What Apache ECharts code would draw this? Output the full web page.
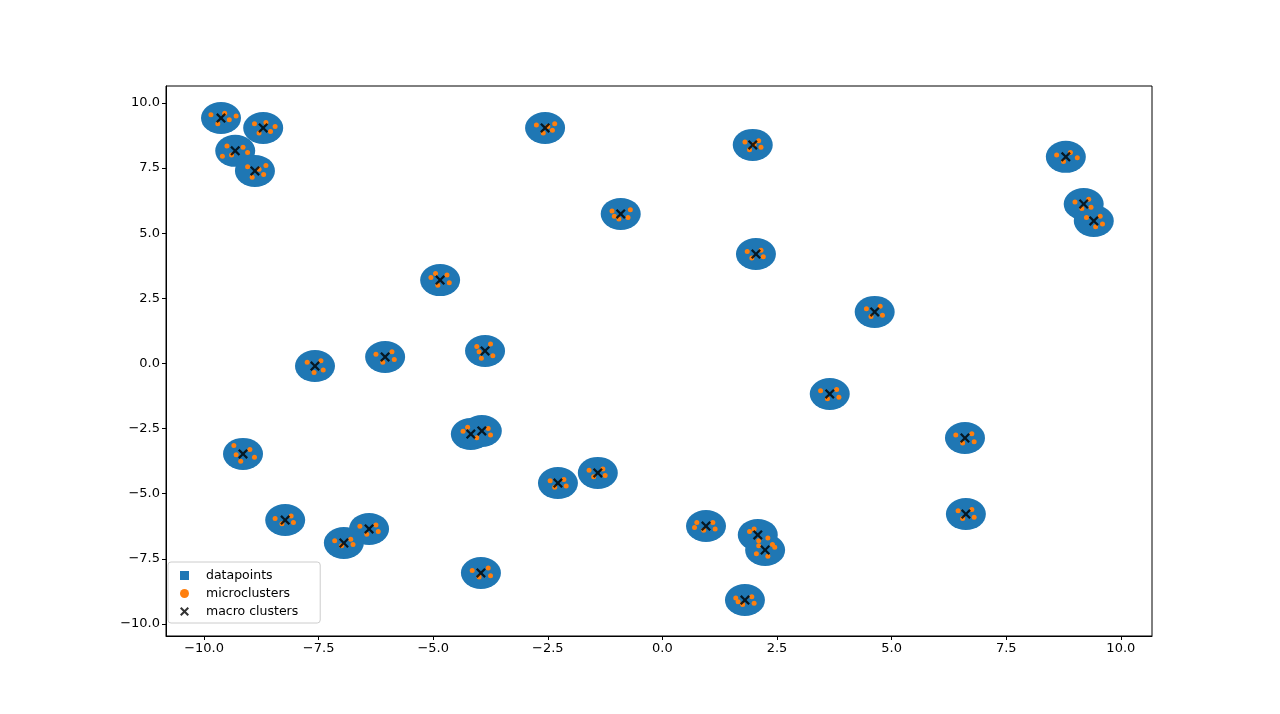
<!DOCTYPE html>
<html><head><meta charset="utf-8">
<script src="https://cdn.jsdelivr.net/npm/echarts@6/dist/echarts.min.js"></script>
<style>html,body{margin:0;padding:0;background:#fff}#c{width:1280px;height:714px}</style>
</head><body><div id="c"></div>
<script>
// blob centres of the datapoints (each blob is one dense cloud of points)
const datapoints = [
[-9.63,9.42],[-8.71,9.04],[-9.32,8.16],[-8.89,7.39],[-2.56,9.04],[1.97,8.39],[-0.91,5.74],
[8.80,7.93],[9.19,6.12],[9.41,5.47],[2.04,4.20],[-4.85,3.20],[4.63,1.98],[-6.05,0.25],
[-3.87,0.48],[-7.58,-0.10],[3.65,-1.17],[-4.18,-2.71],[-3.94,-2.59],[6.60,-2.86],[-9.15,-3.47],
[-1.41,-4.20],[-2.28,-4.59],[-8.23,-6.01],[-6.40,-6.35],[-6.95,-6.89],[0.95,-6.24],[6.62,-5.78],
[2.08,-6.58],[2.24,-7.16],[-3.96,-8.04],[1.80,-9.08]
];
const macroClusters = datapoints.slice();
const microclusters = [
[-9.85,9.55],[-9.45,9.35],[-9.7,9.2],[-9.3,9.5],[-9.55,9.6],
[-8.9,9.2],[-8.55,8.9],[-8.8,8.85],[-8.45,9.1],[-8.65,9.25],
[-9.6,7.95],[-9.15,8.3],[-9.4,8.0],[-9.05,8.1],[-9.5,8.35],
[-9.05,7.55],[-8.7,7.25],[-8.95,7.15],[-8.65,7.6],[-8.8,7.45],
[-2.75,9.15],[-2.4,8.95],[-2.6,8.85],[-2.35,9.2],[-2.5,9.1],
[1.8,8.5],[2.15,8.3],[1.9,8.2],[2.1,8.55],[2.0,8.4],
[-1.1,5.85],[-0.75,5.6],[-0.95,5.55],[-0.7,5.9],[-1.05,5.65],
[8.6,8.0],[9.05,7.9],[8.75,7.75],[8.9,8.1],
[9.0,6.2],[9.35,6.0],[9.15,5.95],[9.3,6.3],
[9.25,5.6],[9.6,5.35],[9.45,5.25],[9.55,5.65],
[1.85,4.3],[2.2,4.1],[1.95,4.05],[2.15,4.35],
[-5.05,3.3],[-4.65,3.1],[-4.9,3.0],[-4.7,3.4],[-4.95,3.45],
[4.45,2.1],[4.8,1.85],[4.55,1.8],[4.75,2.2],
[-6.25,0.35],[-5.85,0.15],[-6.1,0.05],[-5.9,0.45],
[-4.05,0.65],[-3.7,0.3],[-3.95,0.2],[-3.75,0.75],[-4.0,0.45],
[-7.75,0.05],[-7.4,-0.25],[-7.6,-0.35],[-7.45,0.1],
[3.45,-1.05],[3.85,-1.3],[3.6,-1.35],[3.8,-1.0],
[-4.35,-2.6],[-4.05,-2.85],[-3.8,-2.5],[-4.25,-2.45],[-3.75,-2.75],
[6.4,-2.75],[6.8,-3.0],[6.55,-3.05],[6.75,-2.7],
[-9.35,-3.15],[-8.9,-3.6],[-9.2,-3.75],[-9.0,-3.3],[-9.3,-3.5],
[-1.6,-4.1],[-1.25,-4.3],[-1.5,-4.35],[-1.3,-4.05],
[-2.45,-4.5],[-2.1,-4.7],[-2.35,-4.75],[-2.15,-4.45],
[-8.45,-5.95],[-8.05,-6.1],[-8.3,-6.15],[-8.1,-5.85],
[-6.6,-6.25],[-6.2,-6.45],[-6.45,-6.55],[-6.25,-6.2],
[-7.15,-6.8],[-6.75,-6.95],[-7.0,-7.0],[-6.8,-6.75],
[0.75,-6.1],[1.15,-6.35],[0.9,-6.4],[1.1,-6.1],[0.7,-6.3],
[6.45,-5.65],[6.8,-5.9],[6.55,-5.95],[6.75,-5.6],
[1.9,-6.45],[2.3,-6.7],[2.1,-6.8],[2.0,-6.35],
[2.05,-7.3],[2.45,-7.05],[2.3,-7.4],[2.4,-6.95],[2.1,-7.0],
[-4.15,-7.95],[-3.75,-8.15],[-4.0,-8.2],[-3.8,-7.85],
[1.6,-9.0],[2.0,-9.2],[1.75,-9.25],[1.95,-8.95],[1.65,-9.15]
];
const xTicks = [-10,-7.5,-5,-2.5,0,2.5,5,7.5,10];
const yTicks = [-10,-7.5,-5,-2.5,0,2.5,5,7.5,10];
const fmt = v => (v<0?'\u2212':'') + Math.abs(v).toFixed(1);
const X = 'path://M0,1.6L1.6,0L5,3.4L8.4,0L10,1.6L6.6,5L10,8.4L8.4,10L5,6.6L1.6,10L0,8.4L3.4,5Z';
const font = {fontFamily:'DejaVu Sans',fontSize:13,color:'#000'};
const chart = echarts.init(document.getElementById('c'));
chart.setOption({
  animation:false,
  grid:{left:166,right:128,top:86,bottom:78,show:true,borderColor:'#000',borderWidth:1},
  legend:{orient:'vertical',left:168,top:562,itemWidth:9,itemHeight:9,itemGap:5,
    padding:[7,22,5,12],borderColor:'#ccc',borderWidth:1,borderRadius:3,backgroundColor:'#fff',
    textStyle:{fontFamily:'DejaVu Sans',fontSize:12.5,color:'#000',padding:[0,0,0,12]},
    data:[{name:'datapoints',icon:'rect'},{name:'microclusters',icon:'circle'},{name:'macro clusters',icon:X}]},
  xAxis:{type:'value',min:-10.83,max:10.68,splitLine:{show:false},
    axisLine:{onZero:false,lineStyle:{color:'#000'}},
    axisTick:{show:true,customValues:xTicks,length:4,lineStyle:{color:'#000'}},
    axisLabel:Object.assign({customValues:xTicks,formatter:fmt,margin:6},font)},
  yAxis:{type:'value',min:-10.46,max:10.65,splitLine:{show:false},
    axisLine:{onZero:false,lineStyle:{color:'#000'}},
    axisTick:{show:true,customValues:yTicks,length:4,lineStyle:{color:'#000'}},
    axisLabel:Object.assign({customValues:yTicks,formatter:fmt,margin:6},font)},
  series:[
    {name:'datapoints',type:'scatter',data:datapoints,symbol:'circle',symbolSize:[40,32],
      itemStyle:{color:'#1f77b4',opacity:1}},
    {name:'microclusters',type:'scatter',data:microclusters,symbol:'circle',symbolSize:5,
      itemStyle:{color:'#ff7f0e',opacity:1}},
    {name:'macro clusters',type:'scatter',data:macroClusters,symbol:X,symbolSize:10,
      itemStyle:{color:'#000'}}
  ]
});
</script></body></html>
